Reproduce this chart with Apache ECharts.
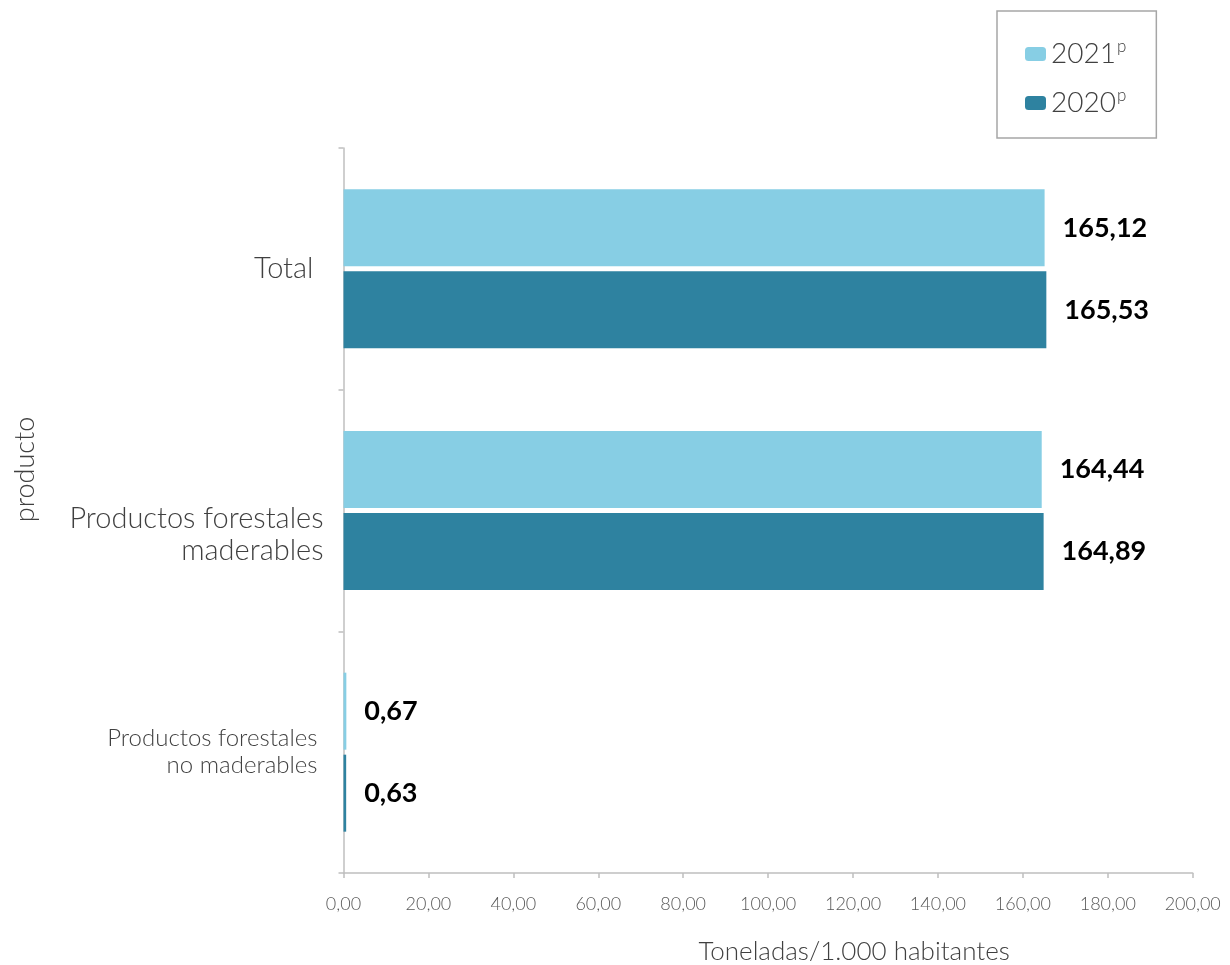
<!DOCTYPE html>
<html>
<head>
<meta charset="utf-8">
<script src="https://cdn.jsdelivr.net/npm/echarts@6/dist/echarts.min.js"></script>
<style>
  html, body { margin: 0; padding: 0; background: #ffffff; }
  #chart { width: 1230px; height: 965px; }
</style>
</head>
<body>
<div id="chart"></div>
<script>
// Productos forestales: toneladas por cada 1.000 habitantes
const categories = ['Total', 'Productos forestales maderables', 'Productos forestales no maderables'];
const seriesNames = ['2021', '2020'];
const values2021 = [165.12, 164.44, 0.67];
const values2020 = [165.53, 164.89, 0.63];
const axisMin = 0;
const axisMax = 200;
const axisStep = 20;

const COLOR_2021 = '#87CEE4';
const COLOR_2020 = '#2E82A0';
const FONT = 'Lato, "Open Sans", sans-serif';

const fmt = v => Number(v).toFixed(2).replace('.', ',');

const chart = echarts.init(document.getElementById('chart'), null, { renderer: 'canvas' });

// Category labels: two-line names for the product groups
const catLabel = (name) => {
  if (name === categories[0]) return '{tot|' + name + '}';
  if (name === categories[1]) return '{gap| }\n{mad|Productos forestales}\n{mad|maderables}';
  return '{nm|Productos forestales}\n{nm|no maderables}';
};

const valueLabel = {
  show: true,
  position: 'right',
  distance: 18,
  formatter: p => fmt(p.value),
  fontFamily: FONT,
  fontWeight: 'bold',
  fontSize: 27,
  color: '#000000'
};

chart.setOption({
  backgroundColor: '#ffffff',
  animation: false,
  textStyle: { fontFamily: FONT },
  legend: {
    orient: 'vertical',
    left: 997,
    top: 11,
    padding: [27, 30, 21, 28],
    borderColor: '#a6a6a6',
    borderWidth: 1.5,
    borderRadius: 0,
    itemWidth: 21,
    itemHeight: 14,
    itemGap: 19,
    data: seriesNames,
    formatter: name => '{y|' + name + '}{s|p}',
    textStyle: {
      rich: {
        y: { fontFamily: FONT, fontWeight: 300, fontSize: 28, color: '#404040', lineHeight: 32 },
        s: { fontFamily: FONT, fontWeight: 300, fontSize: 17, color: '#404040', verticalAlign: 'top', lineHeight: 32, padding: [0, 0, 12, 1] }
      }
    }
  },
  grid: {
    left: 343.5,
    right: 37.3,
    top: 148,
    bottom: 92,
    containLabel: false,
    outerBoundsMode: 'none'
  },
  xAxis: {
    type: 'value',
    min: axisMin,
    max: axisMax,
    interval: axisStep,
    name: 'Toneladas/1.000 habitantes',
    nameLocation: 'middle',
    nameGap: 66,
    nameTextStyle: {
      fontFamily: FONT, fontWeight: 300, fontSize: 26, color: '#404040',
      padding: [0, 0, 0, 172]
    },
    axisLine: { show: true, lineStyle: { color: '#bfbfbf', width: 1.5 } },
    axisTick: { show: true, length: 5, lineStyle: { color: '#bfbfbf', width: 1.5 } },
    splitLine: { show: false },
    axisLabel: {
      margin: 22,
      formatter: v => fmt(v),
      fontFamily: FONT, fontWeight: 300, fontSize: 18, color: '#595959'
    }
  },
  yAxis: {
    type: 'category',
    inverse: true,
    data: categories,
    name: 'producto',
    nameLocation: 'middle',
    nameGap: 305,
    nameRotate: 90,
    nameTextStyle: {
      fontFamily: FONT, fontWeight: 300, fontSize: 27, color: '#404040',
      padding: [0, 0, 0, 82]
    },
    axisLine: { show: true, lineStyle: { color: '#bfbfbf', width: 1.5 } },
    axisTick: { show: true, length: 5, lineStyle: { color: '#bfbfbf', width: 1.5 } },
    axisLabel: {
      margin: 20,
      formatter: catLabel,
      rich: {
        tot: { fontFamily: FONT, fontWeight: 300, fontSize: 29, color: '#404040', padding: [0, 10, 0, 0] },
        gap: { fontSize: 10, lineHeight: 48 },
        mad: { fontFamily: FONT, fontWeight: 300, fontSize: 29, color: '#404040', lineHeight: 32 },
        nm: { fontFamily: FONT, fontWeight: 300, fontSize: 24, color: '#404040', lineHeight: 27, padding: [0, 6, 0, 0] }
      }
    }
  },
  series: [
    {
      name: seriesNames[0],
      type: 'bar',
      data: values2021,
      barWidth: 77,
      barGap: '6.5%',
      itemStyle: { color: COLOR_2021 },
      label: valueLabel
    },
    {
      name: seriesNames[1],
      type: 'bar',
      data: values2020,
      barWidth: 77,
      barGap: '6.5%',
      itemStyle: { color: COLOR_2020 },
      label: valueLabel
    }
  ]
});
</script>
</body>
</html>
